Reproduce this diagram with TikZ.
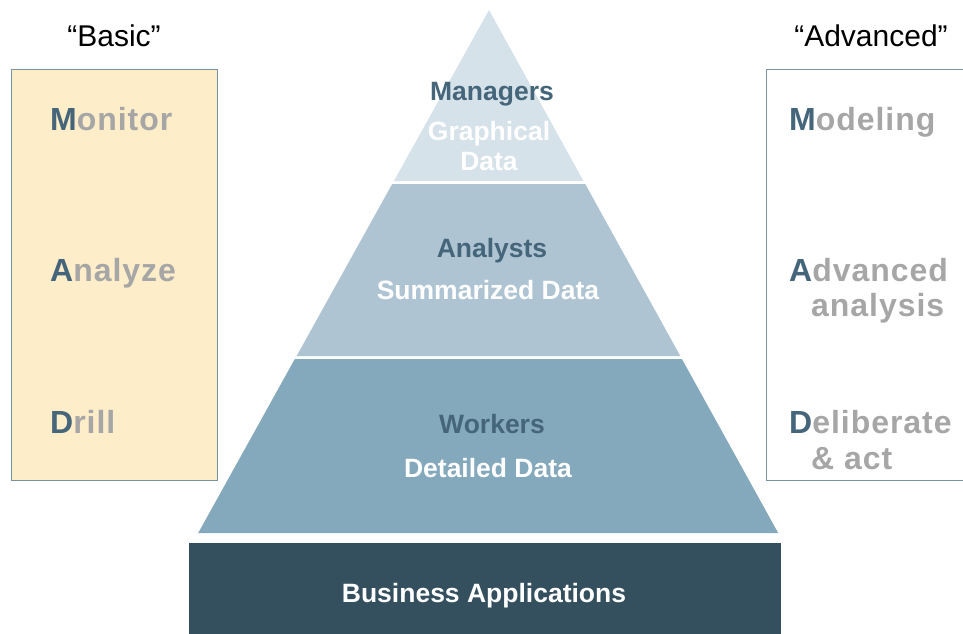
\documentclass[tikz,border=0pt]{standalone}
\usepackage{fontspec}
\setmainfont{Liberation Sans}
\definecolor{topc}{RGB}{214,226,233}
\definecolor{midc}{RGB}{174,196,210}
\definecolor{botc}{RGB}{132,168,188}
\definecolor{darkc}{RGB}{52,79,94}
\definecolor{letc}{RGB}{69,101,122}
\definecolor{greyc}{RGB}{166,166,166}
\definecolor{creamc}{RGB}{253,237,200}
\definecolor{bordc}{RGB}{122,146,162}
\tikzset{
  sidebox/.style={draw=bordc, line width=1pt},
  sidelbl/.style={anchor=base west, inner sep=0pt, font=\fontsize{32}{36}\selectfont\bfseries\addfontfeature{LetterSpace=3}, text=greyc},
  hdr/.style={anchor=base, inner sep=0pt, font=\fontsize{30}{34}\selectfont},
  role/.style={anchor=base, inner sep=0pt, font=\fontsize{26.5}{30}\selectfont\bfseries, text=letc},
  datal/.style={anchor=base, inner sep=0pt, font=\fontsize{26.5}{30}\selectfont\bfseries, text=white},
}
\newcommand{\initl}[1]{\textcolor{letc}{#1}}
\begin{document}
\begin{tikzpicture}[x=1pt,y=-1pt]
\useasboundingbox (0,0) rectangle (963,633);
% side boxes
\filldraw[sidebox, fill=creamc] (11,69) rectangle (217,480);
\draw[sidebox] (980,69) -- (766,69) -- (766,480) -- (980,480);
% pyramid
\fill[topc] (489,10) -- (583.5,181) -- (393.9,181) -- cycle;
\fill[midc] (392.2,184) -- (585.2,184) -- (680.3,356) -- (296.6,356) -- cycle;
\fill[botc] (294.8,359) -- (681.9,359) -- (778.2,533) -- (198.2,533) -- cycle;
\fill[darkc] (189,543) rectangle (781,640);
% headers
\node[hdr] (basic) at (114,46) {“Basic”};
\node[hdr] (adv) at (871,46) {“Advanced”};
% left labels
\node[sidelbl] (mon) at (50,130) {\initl{M}onitor};
\node[sidelbl] (ana) at (50,281) {\initl{A}nalyze};
\node[sidelbl] (dri) at (50,433) {\initl{D}rill};
% right labels
\node[sidelbl] (mod) at (789,130) {\initl{M}odeling};
\node[sidelbl] (ada) at (789,281) {\initl{A}dvanced};
\node[sidelbl] (adb) at (811,316) {analysis};
\node[sidelbl] (del) at (789,433) {\initl{D}eliberate};
\node[sidelbl] (dea) at (811,469) {\& act};
% pyramid labels
\node[role] (man) at (492,100) {Managers};
\node[datal] (gra) at (489,140) {Graphical};
\node[datal] (gdat) at (489,170) {Data};
\node[role] (anl) at (492,257) {Analysts};
\node[datal] (sum) at (488,299) {Summarized Data};
\node[role] (wor) at (492,433) {Workers};
\node[datal] (det) at (488,477) {Detailed Data};
\node[datal] (bus) at (484,602) {Business Applications};
\end{tikzpicture}
\end{document}
